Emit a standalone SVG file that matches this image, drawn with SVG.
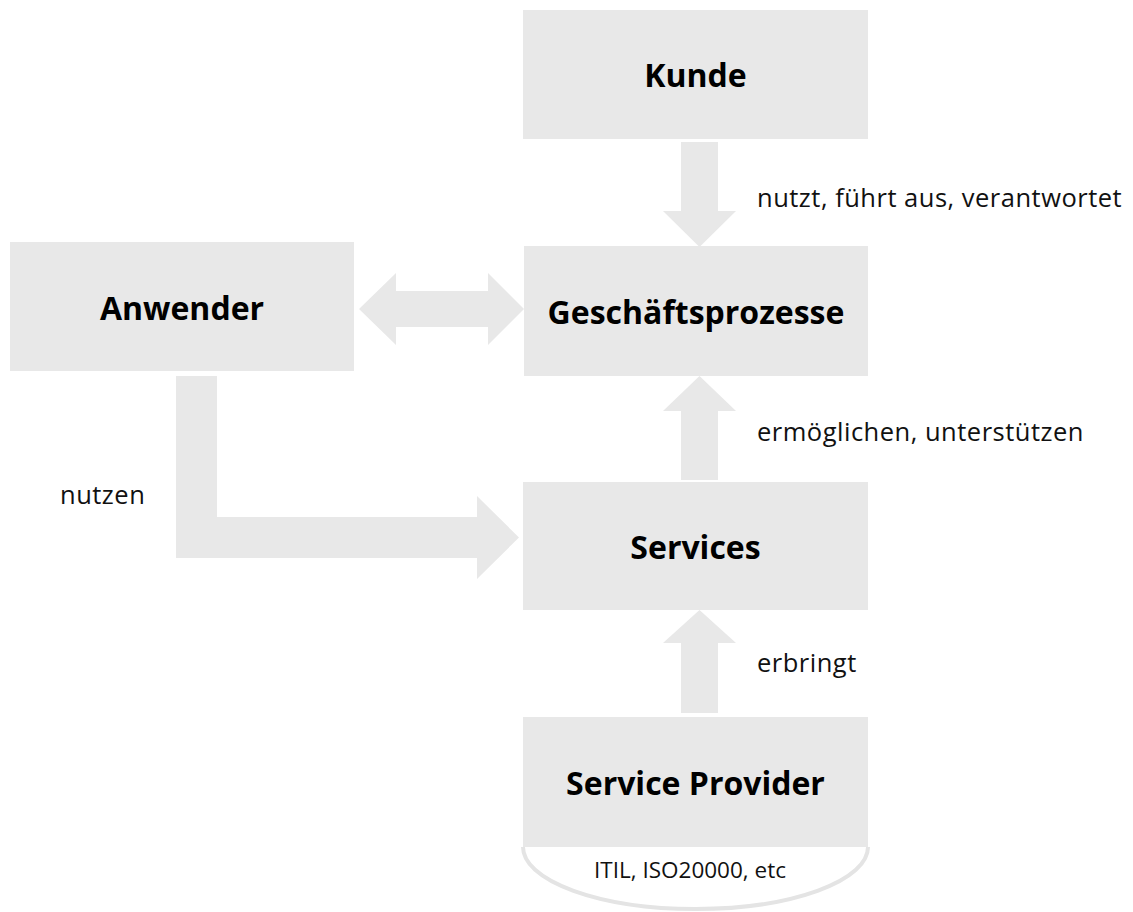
<svg xmlns="http://www.w3.org/2000/svg" width="1133" height="912" viewBox="0 0 1133 912">
  <style>
    .box { fill: #e8e8e8; }
    .conn { fill: #e8e8e8; }
    .title { font-family: "Open Sans", "Liberation Sans", sans-serif; font-weight: bold; font-size: 32px; fill: #000; text-anchor: middle; }
    .label { font-family: "Open Sans", "Liberation Sans", sans-serif; font-size: 25.5px; letter-spacing: 0.5px; fill: #111; }
    .note { font-family: "Open Sans", "Liberation Sans", sans-serif; font-size: 22.5px; fill: #111; text-anchor: middle; }
  </style>
  <rect width="1133" height="912" fill="#ffffff"/>

  <!-- block arrows between the boxes -->
  <g id="connectors">
    <polygon class="conn" points="681,142 718,142 718,211 736,211 699.5,247 663,211 681,211"/>
    <polygon class="conn" points="359,309 396,273 396,291 488,291 488,273 524,309 488,345 488,327 396,327 396,345"/>
    <polygon class="conn" points="681,480 681,411 663,411 699.5,376 736,411 718,411 718,480"/>
    <polygon class="conn" points="681,713 681,643 663,643 699.5,610 736,643 718,643 718,713"/>
    <polygon class="conn" points="176,376 217,376 217,517 477,517 477,496 519,537.5 477,579 477,558 176,558"/>
    <text class="label" x="757" y="207">nutzt, führt aus, verantwortet</text>
    <text class="label" x="757" y="441">ermöglichen, unterstützen</text>
    <text class="label" x="757" y="672">erbringt</text>
    <text class="label" x="60" y="504">nutzen</text>
  </g>

  <g id="kunde">
    <rect class="box" x="523" y="10" width="345" height="129"/>
    <text class="title" x="695.5" y="87">Kunde</text>
  </g>

  <g id="anwender">
    <rect class="box" x="10" y="242" width="344" height="129"/>
    <text class="title" x="182" y="320">Anwender</text>
  </g>

  <g id="geschaeftsprozesse">
    <rect class="box" x="524" y="246" width="344" height="130"/>
    <text class="title" x="696" y="324">Geschäftsprozesse</text>
  </g>

  <g id="services">
    <rect class="box" x="523" y="482" width="345" height="128"/>
    <text class="title" x="695.5" y="559">Services</text>
  </g>

  <g id="service-provider">
    <path d="M523,847 A172.5,62 0 0 0 868,847" fill="#ffffff" stroke="#e4e4e4" stroke-width="4"/>
    <rect class="box" x="523" y="717" width="345" height="130"/>
    <text class="title" x="695.5" y="795">Service Provider</text>
    <text class="note" x="690" y="878">ITIL, ISO20000, etc</text>
  </g>
</svg>
